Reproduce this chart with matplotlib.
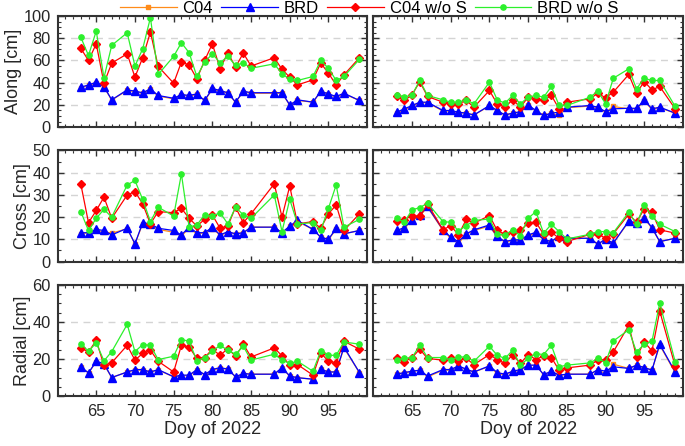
import numpy as np
import matplotlib as mpl
import matplotlib.pyplot as plt
from matplotlib.ticker import MultipleLocator

plt.rcParams['font.family'] = ['Liberation Sans', 'DejaVu Sans']

days = [63, 64, 65, 66, 67, 69, 70, 71, 72, 73, 75, 76, 77, 78, 79, 80, 81, 82, 83, 84, 85,
        88, 89, 90, 91, 93, 94, 95, 96, 97, 99]

# left column
along_c04_l = [35.5, 37.5, 40, 36, 24.5, 33, 32, 30.5, 34, 28, 25.5, 29, 28, 29.5, 24, 34, 32.5, 30.5, 22.5,
               32, 30.5, 30.5, 30.5, 20, 24, 22.5, 32, 29.5, 27, 30, 24]
along_brd_l = [36, 38, 40.5, 36.5, 24.6, 33.6, 32.4, 31, 34.5, 28.5, 26, 29.4, 28.5, 30, 24, 34.8, 33, 31, 22.5,
               32.4, 31, 31, 31, 20, 24.6, 22.5, 32.4, 30, 27.6, 30.6, 24]
along_c04s_l = [71, 60, 75, 39.5, 57.7, 66, 45, 62.5, 85.6, 54.7, 39.6, 58.5, 56, 43.5, 60, 75, 52.5, 67, 54,
                66.7, 55, 62.5, 52, 45, 38, 42.6, 57.7, 48.6, 38, 47, 62.5]
along_brds_l = [81, 64.5, 86.5, 44.5, 73.6, 85, 55, 70.5, 98.5, 47.4, 63.7, 76, 67, 45.6, 58.5, 66, 58, 63.7, 55.5,
                58, 53, 57, 48, 43, 42, 45.6, 60, 53, 42, 45.6, 61]

cross_c04_l = [12.5, 13, 14, 13.5, 12.8, 14.8, 8, 17, 16.5, 14.5, 13.2, 11.5, 15, 12.5, 13, 14.8, 12, 13, 12.5,
               13, 15.5, 15.5, 13, 16, 18, 14.5, 11, 10, 14.5, 12.5, 14]
cross_brd_l = [13, 13, 14.5, 14, 12, 15, 8, 17.5, 17, 15, 14, 12, 15.5, 13, 13, 15.5, 12, 13.5, 12.5,
               13, 15.5, 15.5, 13, 16, 18.5, 14.5, 11, 10, 15, 12.5, 14]
cross_c04s_l = [35, 17.5, 23, 29, 19.5, 30, 31.5, 26, 17, 22.5, 22, 24, 19.5, 16, 19, 21, 15, 16, 24.5,
                17.5, 21.5, 35, 20, 34, 17, 18, 15, 21.5, 25.5, 14, 21.5]
cross_brds_l = [22.5, 14, 19.5, 23.5, 20, 34.5, 36.5, 28, 18, 24.5, 20.5, 39.5, 15.5, 16.5, 21, 20.5, 22, 17, 24.5,
                21, 19.5, 30, 13.5, 28, 17, 17.5, 14, 24, 34.5, 15.5, 19]

radial_c04_l = [15.5, 12.5, 18.5, 17, 10, 13, 14, 14, 13, 14, 10.4, 11, 11, 14, 11.5, 14, 15, 14.5, 10.4,
                12, 11.8, 11.8, 15, 10.8, 9.9, 9.1, 14.5, 13, 13, 26, 12.7]
radial_brd_l = [15.8, 12.5, 18.8, 17.5, 10, 13, 14.3, 14.3, 13, 14.3, 10.4, 11.3, 11.3, 14.3, 11.6, 14.3, 15.4, 14.5,
                10.4, 12.2, 11.8, 11.8, 15.4, 10.8, 9.9, 9.1, 14.5, 13, 13, 26.5, 12.7]
radial_c04s_l = [26, 23.8, 30.1, 16.5, 18, 27.4, 19.4, 23, 24.7, 18.8, 13, 27.4, 26.5, 20.3, 20.8, 25.3, 22, 25.6,
                 21.5, 28, 21.1, 26, 21.7, 16.7, 17, 11.3, 23.3, 18.8, 17.9, 29.6, 25.3]
radial_brds_l = [28.3, 24.2, 28.7, 19, 24, 38.7, 24, 27.8, 27.4, 19.7, 21.5, 30.5, 29.6, 19, 20.8, 24.2, 27.4, 24.7,
                 22.6, 26.9, 19.4, 22.6, 19.4, 17.6, 18.8, 13.4, 24.4, 22, 22, 29.2, 28]

# right column
along_c04_r = [13, 15.5, 19, 22, 22, 14.5, 14.5, 13, 12.5, 11, 19, 14.5, 11, 12.5, 13.5, 19.5, 14.5, 10.5, 12.5,
               10.5, 17.5, 19, 17.5, 13.5, 18.6, 16.5, 16.5, 23.5, 16, 17.5, 12.5]
along_brd_r = [13.5, 16.5, 19.5, 22.5, 22.5, 15, 15, 13.5, 12.6, 11, 19.5, 15, 11, 12.6, 14, 20, 15, 10.5, 12.6,
               13.5, 18, 19.5, 18, 14, 16.5, 17, 17, 24, 16.5, 18, 12.6]
along_c04s_r = [27.6, 24, 29, 41, 27.6, 22.5, 21, 21, 24, 18, 33, 21, 18, 24.6, 18, 27, 25.5, 24, 28.5,
                16.5, 22.5, 25.5, 30.6, 26.4, 31.5, 47.4, 30.6, 41, 33.6, 36.6, 16.5]
along_brds_r = [29, 27, 29, 42, 28.5, 24.6, 22.5, 22.5, 24.6, 21, 40.5, 24.6, 21.6, 28.5, 21, 27, 28.5, 27, 36.6,
                19.5, 19.5, 27, 32.4, 21, 44, 52.5, 34.5, 44, 42, 42, 18.6]

cross_c04_r = [13.5, 15, 18.5, 20.5, 24.5, 14, 10.5, 8.3, 12.2, 14, 16, 11, 8.8, 9.5, 9.5, 11.5, 13, 9.8, 9,
               11.2, 10.5, 10.5, 7.8, 10, 8.3, 18, 17, 19.5, 15, 9, 10.5]
cross_brd_r = [14, 15.3, 18.8, 21, 24.8, 14.3, 11, 9, 12.5, 14.3, 16.5, 11.3, 9, 9.8, 9.8, 12, 13.2, 10, 9,
               11.7, 10.5, 10.5, 7.8, 10.2, 8.3, 18.3, 17.3, 19.8, 15.3, 9, 10.5]
cross_c04s_r = [18.3, 18.8, 20.7, 20.3, 26, 14.3, 16.2, 12, 19, 17.3, 20.7, 14, 12.3, 13.5, 14, 17.3, 17.7, 12.3,
                13.2, 10.5, 9, 12.3, 12.5, 10.5, 12.5, 21.3, 17.7, 23.7, 22.2, 14.3, 12.8]
cross_brds_r = [19.5, 17.7, 23.3, 24.3, 26.3, 18, 17.7, 13.8, 16.2, 18.5, 19.2, 12.3, 12, 14.3, 11.7, 19.5, 22.5,
                12.8, 16.8, 13.5, 10.2, 12.3, 13.5, 13.5, 13, 22.2, 16.8, 25.5, 20.3, 16.8, 13.5]

radial_c04_r = [11.8, 12.5, 13.2, 14, 10.3, 14, 14, 16, 14.3, 13, 16, 12.2, 11.5, 13.2, 14, 16.5, 16.5, 11.6,
                13.2, 11, 11.8, 11.8, 14, 12.2, 17.2, 14.9, 16.5, 15.2, 14, 27.5, 12.6]
radial_brd_r = [11.8, 12.7, 13.4, 14, 10.8, 14.3, 14.3, 16.3, 14.5, 13, 16.3, 12.7, 11.8, 13.4, 14.3, 16.7, 16.7,
                11.6, 13.4, 11.3, 11.8, 11.8, 14.3, 13.4, 15.8, 14.9, 16.7, 15.4, 14, 28, 13]
radial_c04s_r = [20.8, 18.5, 20.8, 25.3, 20.3, 19.4, 20.8, 19, 20.3, 17, 22.4, 19.7, 17.6, 22.4, 17.6, 22.4, 19.7,
                 21.7, 20.8, 14, 15.2, 16.7, 19.4, 19.4, 23.8, 38.2, 21.1, 29.2, 24.4, 45.9, 16.1]
radial_brds_r = [19.7, 20.3, 20.8, 27.4, 20.8, 20.8, 19.7, 21.1, 21.1, 18.8, 26.9, 22, 20.3, 24.7, 16.7, 20.3, 22.9,
                 22.4, 27.4, 15.8, 16.7, 17.9, 20.3, 18.1, 29.7, 35.8, 23.8, 28, 29.6, 50.2, 18.5]

series_names = ['C04', 'BRD', 'C04 w/o S', 'BRD w/o S']
row_labels = ['Along [cm]', 'Cross [cm]', 'Radial [cm]']
y_limits = [(0, 100), (0, 50), (0, 60)]
y_steps = [20, 10, 20]

STYLES = [dict(color='#ff8c1a', marker='s', ms=3.5),
          dict(color='#0000ff', marker='^', ms=5.5),
          dict(color='#ff0000', marker='D', ms=4.5),
          dict(color='#2cf02c', marker='o', ms=3.8)]
FRAME = '#333333'
TXT = '#262626'

panels = [
    [(along_c04_l, along_brd_l, along_c04s_l, along_brds_l), (along_c04_r, along_brd_r, along_c04s_r, along_brds_r)],
    [(cross_c04_l, cross_brd_l, cross_c04s_l, cross_brds_l), (cross_c04_r, cross_brd_r, cross_c04s_r, cross_brds_r)],
    [(radial_c04_l, radial_brd_l, radial_c04s_l, radial_brds_l),
     (radial_c04_r, radial_brd_r, radial_c04s_r, radial_brds_r)],
]

fig, axes = plt.subplots(3, 2, figsize=(6.85, 4.46), dpi=100, sharex=True)
fig.subplots_adjust(left=0.084, right=0.997, top=0.964, bottom=0.112, wspace=0.02, hspace=0.21)

for r in range(3):
    for c in range(2):
        ax = axes[r, c]
        for vals, name, st in zip(panels[r][c], series_names, STYLES):
            ax.plot(days, vals, color=st['color'], marker=st['marker'], markersize=st['ms'], linewidth=0.9,
                    label=name)
        ax.set_xlim(60, 100)
        ax.set_ylim(*y_limits[r])
        ax.set_xticks(np.arange(65, 100, 5))
        ax.xaxis.set_minor_locator(MultipleLocator(1))
        ax.yaxis.set_major_locator(MultipleLocator(y_steps[r]))
        ax.yaxis.set_minor_locator(MultipleLocator(5))
        ax.yaxis.grid(True, linestyle=(0, (5, 4)), color='#d4d4d4', linewidth=1.0)
        ax.set_axisbelow(True)
        ax.tick_params(which='both', direction='in', top=True, right=True, colors=FRAME, labelsize=11.8,
                       labelcolor=TXT)
        ax.tick_params(which='major', length=4, width=1)
        ax.tick_params(which='minor', length=2, width=0.8)
        ax.tick_params(axis='x', pad=6)
        ax.tick_params(axis='y', pad=5)
        for sp in ax.spines.values():
            sp.set_color(FRAME)
            sp.set_linewidth(1.5)
        if c == 0:
            ax.set_ylabel(row_labels[r], fontsize=13, color=TXT, labelpad=1)
        else:
            ax.tick_params(labelleft=False)
        if r == 2:
            ax.set_xlabel('Doy of 2022', fontsize=13, color=TXT, labelpad=1.5)

handles, labels = axes[0, 0].get_legend_handles_labels()
fig.legend(handles, labels, loc='center', bbox_to_anchor=(0.539, 0.982), ncol=4, frameon=False, fontsize=12,
           handlelength=3.4, handletextpad=0.35, columnspacing=0.5, borderpad=0, borderaxespad=0)

fig.savefig('out.png', dpi=100)
